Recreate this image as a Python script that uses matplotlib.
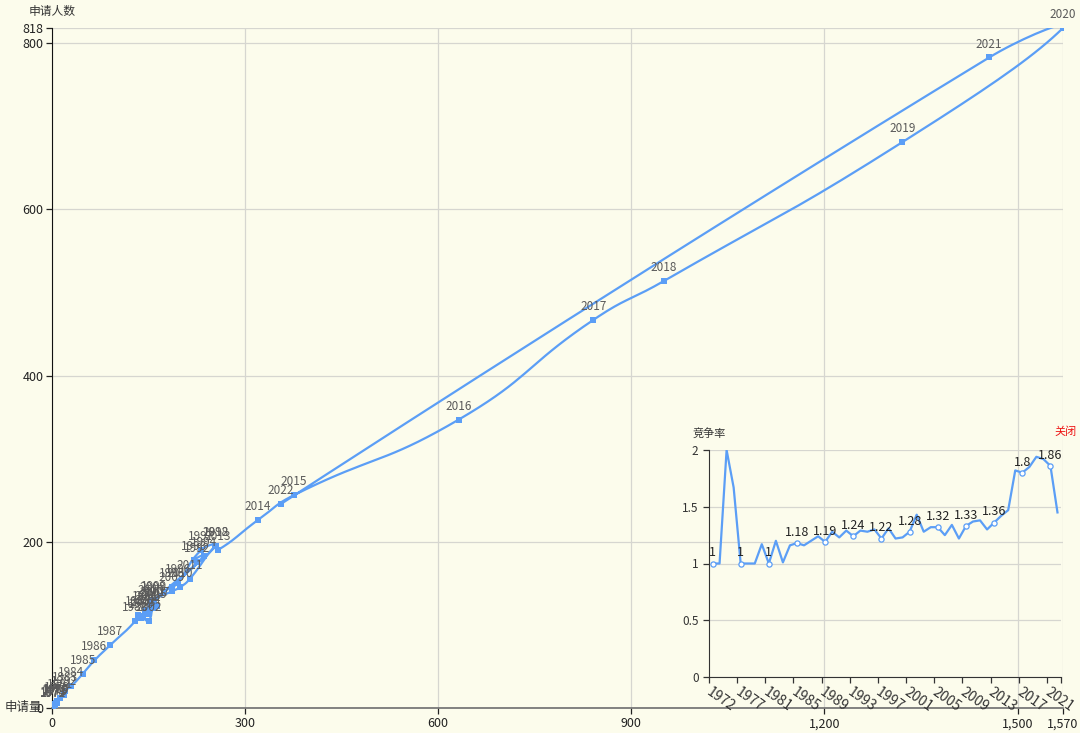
import numpy as np
import matplotlib
matplotlib.use("Agg")
import matplotlib.pyplot as plt
from matplotlib.ticker import FuncFormatter, FixedLocator

plt.rcParams['font.family'] = ['Noto Sans CJK SC', 'DejaVu Sans']

# years (1976 has no entry)
years = [1972, 1973, 1974, 1975] + list(range(1977, 2023))

# main chart: 申请量 (x) vs 申请人数 (y), one point per year
applications = [1, 2, 2, 5, 4, 6, 8, 7, 12, 18, 20, 30, 48, 66, 90, 129, 133, 138, 145, 226,
                221, 236, 186, 195, 232, 255, 159, 154, 156, 150, 141, 149, 158, 148, 163, 156,
                186, 199, 214, 254, 258, 320, 376, 632, 841, 951, 1321, 1570, 1456, 355]
applicants = [1, 2, 1, 3, 4, 6, 8, 6, 12, 15, 20, 26, 41, 57, 75, 104, 112, 108, 118, 175,
              178, 183, 145, 150, 190, 195, 130, 125, 122, 105, 110, 113, 120, 118, 122, 128,
              140, 145, 155, 195, 190, 226, 256, 347, 467, 514, 681, 818, 783, 245]

# inset: 竞争率 per year
ratio = [1.0, 1.0, 2.0, 1.67, 1.0, 1.0, 1.0, 1.17, 1.0, 1.2, 1.01, 1.16, 1.18, 1.16, 1.2,
         1.24, 1.19, 1.28, 1.23, 1.29, 1.24, 1.29, 1.28, 1.3, 1.22, 1.31, 1.22, 1.23, 1.28,
         1.43, 1.28, 1.32, 1.32, 1.25, 1.34, 1.22, 1.33, 1.37, 1.38, 1.3, 1.36, 1.42, 1.47,
         1.82, 1.8, 1.85, 1.94, 1.92, 1.86, 1.45]

x_ticks = [0, 300, 600, 900, 1200, 1500, 1570]
y_ticks = [0, 200, 400, 600, 800, 818]
ratio_ticks = [0, 0.5, 1, 1.5, 2]

BG = '#fcfcec'
BLUE = '#5b9ef6'
GRID = '#d6d6d0'


def smooth(xs, ys, sx=1.0, sy=1.0, n=20, k=0.5):
    # echarts-like smoothing: control points along (next - prev), split by segment lengths
    p = np.column_stack([np.asarray(xs, float), np.asarray(ys, float)])
    scale = np.array([sx, sy])
    m = len(p)
    cp_in = p.copy()
    cp_out = p.copy()
    for i in range(1, m - 1):
        v = p[i + 1] - p[i - 1]
        d0 = np.linalg.norm((p[i] - p[i - 1]) * scale)
        d1 = np.linalg.norm((p[i + 1] - p[i]) * scale)
        tot = d0 + d1
        if tot == 0:
            continue
        cp_in[i] = p[i] - v * k * d0 / tot
        cp_out[i] = p[i] + v * k * d1 / tot
    out = [p[0]]
    t = np.linspace(0, 1, n)[1:, None]
    for i in range(m - 1):
        a, b, c, d = (1 - t) ** 3, 3 * (1 - t) ** 2 * t, 3 * (1 - t) * t ** 2, t ** 3
        seg = a * p[i] + b * cp_out[i] + c * cp_in[i + 1] + d * p[i + 1]
        out.extend(seg)
    out = np.array(out)
    return out[:, 0], out[:, 1]


fig = plt.figure(figsize=(10.8, 7.33), dpi=100)
fig.patch.set_facecolor(BG)

W, H = 1080.0, 733.0
ax = fig.add_axes([52 / W, (H - 707.7) / H, (1062.6 - 52) / W, (707.7 - 28.4) / H])
ax.set_facecolor(BG)
ax.set_xlim(0, 1570)
ax.set_ylim(0, 818)

lx, ly = smooth(applications, applicants, sx=0.644, sy=0.83)
ax.plot(lx, ly, color=BLUE, lw=1.6, zorder=3)
ax.scatter(applications, applicants, s=14, marker='s', color=BLUE, zorder=4, linewidths=0)
for yr, xv, yv in zip(years, applications, applicants):
    ax.annotate(str(yr), (xv, yv), xytext=(0, 5), textcoords='offset points',
                ha='center', va='bottom', fontsize=8.5, color='#5a5a5a', zorder=5,
                annotation_clip=False)

ax.xaxis.set_major_locator(FixedLocator(x_ticks))
ax.yaxis.set_major_locator(FixedLocator(y_ticks))
ax.xaxis.set_major_formatter(FuncFormatter(lambda v, p: '{:,.0f}'.format(v)))
ax.grid(True, color=GRID, lw=0.9, zorder=0)
for s in ['top', 'right']:
    ax.spines[s].set_visible(False)
ax.spines['left'].set_color('#111111')
ax.spines['bottom'].set_color('#6e6e6e')
ax.spines['bottom'].set_linewidth(1.2)
ax.tick_params(axis='both', labelsize=9, colors='#222222', length=4, width=0.9)
ax.tick_params(axis='x', pad=3)
ax.tick_params(axis='y', pad=2)
ax.text(0.0, 1.015, '申请人数', transform=ax.transAxes, fontsize=8.5, color='#333333',
        ha='center', va='bottom')
ax.annotate('申请量', (0, 0), xytext=(-7, 0), textcoords='offset points',
            ha='right', va='center', fontsize=9, color='#333333', annotation_clip=False)

# inset competition-rate chart (transparent, main grid shows through)
ins = fig.add_axes([709 / W, (H - 677) / H, 352 / W, 227 / H])
ins.patch.set_alpha(0)
idx = np.arange(len(years))
ins.set_xlim(-0.5, len(years) - 0.5)
ins.set_ylim(0, 2)
ins.plot(idx, ratio, color=BLUE, lw=1.6, zorder=3)
lab = idx[::4]
ins.scatter(lab, [ratio[i] for i in lab], s=14, facecolor='white', edgecolor=BLUE,
            linewidths=0.9, zorder=4)
for i in lab:
    ins.annotate('{:g}'.format(ratio[i]), (i, ratio[i]), xytext=(0, 3), textcoords='offset points',
                 ha='center', va='bottom', fontsize=9, color='#222222', zorder=5)

ins.yaxis.set_major_locator(FixedLocator(ratio_ticks))
ins.yaxis.set_major_formatter(FuncFormatter(lambda v, p: '{:g}'.format(v)))
ins.grid(True, axis='y', color=GRID, lw=0.9, zorder=0)
ins.xaxis.set_major_locator(FixedLocator(list(lab)))
ins.set_xticklabels([str(years[i]) for i in lab], rotation=-35, ha='left', va='top',
                    rotation_mode='anchor', fontsize=10, color='#333333')
ins.xaxis.set_minor_locator(FixedLocator(list(np.arange(-0.5, len(years), 4)) + [len(years) - 0.5]))
ins.tick_params(axis='x', which='major', length=0, pad=6)
ins.tick_params(axis='x', which='minor', length=4, width=0.9, color='#333333')
ins.tick_params(axis='y', labelsize=8.5, colors='#333333', length=4, width=0.9)
for s in ['top', 'right']:
    ins.spines[s].set_visible(False)
ins.spines['left'].set_color('#333333')
ins.spines['bottom'].set_color('#333333')
ins.text(-0.5, 2.1, '竞争率', fontsize=8, color='#333333', ha='center', va='bottom')
fig.text(1077 / W, 1 - 432 / H, '关闭', fontsize=8, color='#ee1111', ha='right', va='center')

fig.savefig('out.png', dpi=100, facecolor=BG)
